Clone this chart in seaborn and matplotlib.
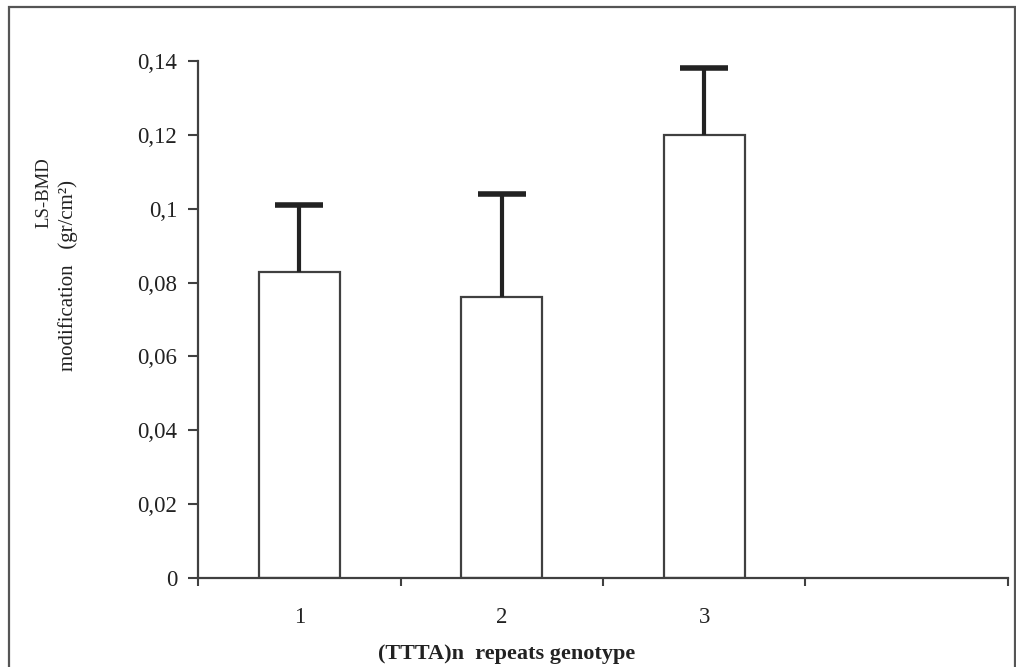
import pandas as pd
import matplotlib.pyplot as plt
import seaborn as sns
from matplotlib.patches import Rectangle
from matplotlib.ticker import FuncFormatter

# data
genotypes = ["1", "2", "3"]
bmd_change = [0.083, 0.076, 0.120]
bmd_error = [0.018, 0.028, 0.018]
y_ticks = [0, 0.02, 0.04, 0.06, 0.08, 0.10, 0.12, 0.14]

data = pd.DataFrame({"Genotype": genotypes, "Change": bmd_change})

sns.set_style("white")
plt.rcParams["font.family"] = ["Liberation Serif", "DejaVu Serif"]

fig = plt.figure(figsize=(10.16, 6.67), dpi=100)
ax = fig.add_axes([0.195, 0.1334, 0.797, 0.7751])

sns.barplot(
    data=data,
    x="Genotype",
    y="Change",
    order=genotypes + [" "],
    color="white",
    edgecolor="#404040",
    linewidth=1.6,
    width=0.4,
    errorbar=None,
    ax=ax,
)

# upper-only error bars
eb = ax.errorbar(
    range(len(genotypes)),
    bmd_change,
    yerr=[[0] * len(genotypes), bmd_error],
    fmt="none",
    ecolor="#222222",
    elinewidth=3,
    capsize=17,
    capthick=4,
)
eb[1][0].set_visible(False)  # drop the lower caps

ax.set_xlim(-0.5, 3.5)
ax.set_ylim(0, 0.14)
ax.set_yticks(y_ticks)
ax.yaxis.set_major_formatter(FuncFormatter(lambda v, p: f"{v:g}".replace(".", ",")))

ax.set_xticks([0, 1, 2])
ax.set_xticklabels(genotypes)
ax.set_xticks([-0.5, 0.5, 1.5, 2.5, 3.5], minor=True)
ax.tick_params(axis="x", which="major", length=0, pad=21, labelsize=16.5, labelcolor="#222222")
ax.tick_params(axis="x", which="minor", direction="out", length=6, width=1.5, color="#404040", bottom=True)
ax.tick_params(axis="y", direction="out", length=7, width=1.5, color="#404040", pad=8,
               labelsize=16.5, labelcolor="#222222", left=True)

sns.despine(ax=ax)
for side in ["left", "bottom"]:
    ax.spines[side].set_color("#404040")
    ax.spines[side].set_linewidth(1.6)

# two-line y title, first line sits higher than the second as in the original
ax.set_ylabel("modification   (gr/cm²)", fontsize=15, color="#222222", va="center")
ax.yaxis.set_label_coords(-0.161, 0.586)
ax.text(-0.191, 0.745, "LS-BMD", transform=ax.transAxes, rotation=90,
        ha="center", va="center", fontsize=13.5, color="#222222")

ax.set_xlabel("(TTTA)n  repeats genotype", fontsize=16, fontweight="bold", color="#222222")
ax.xaxis.set_label_coords(0.381, -0.128)

# frame round the picture
fig.patches.append(Rectangle((9 / 1016, -0.05), 1006 / 1016, 1.05 - 7 / 667,
                             transform=fig.transFigure, fill=False,
                             edgecolor="#555555", linewidth=1.6))

fig.savefig("out.png", dpi=100)
